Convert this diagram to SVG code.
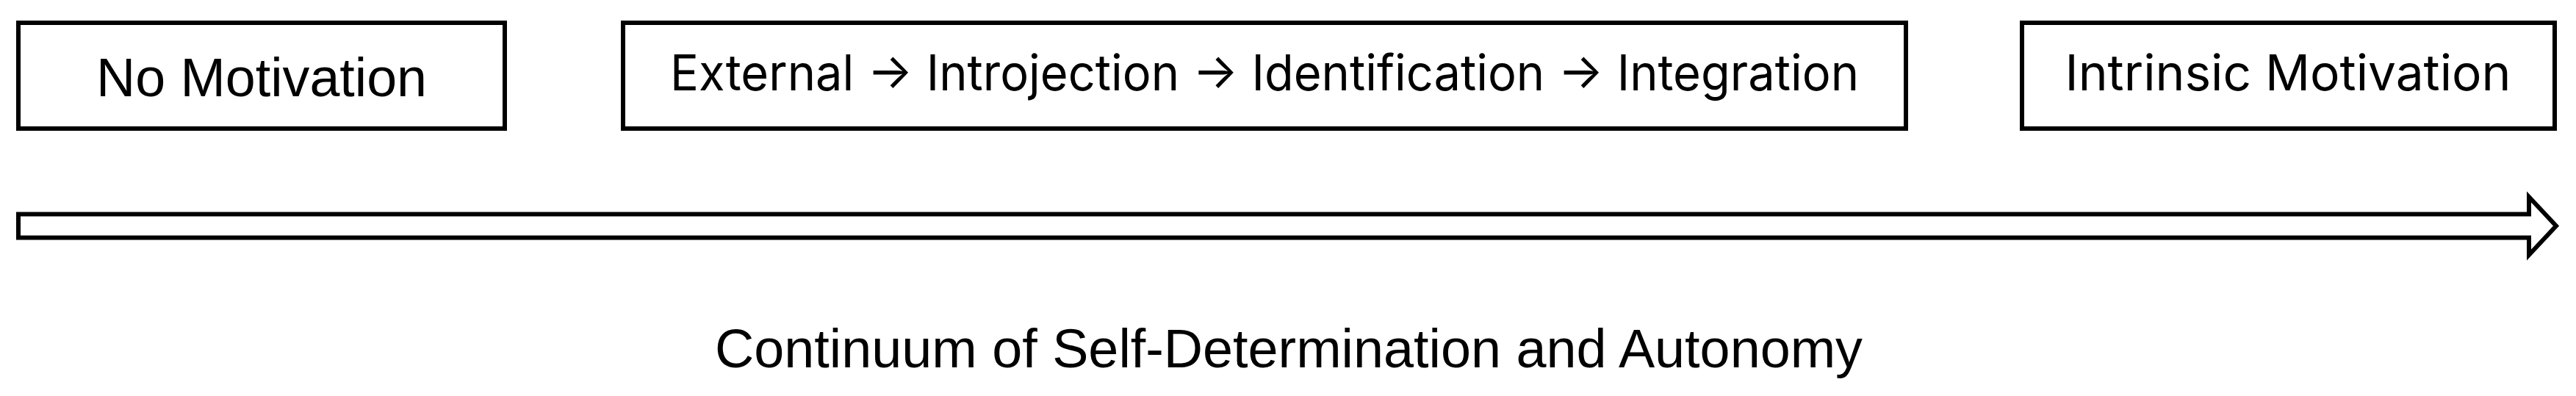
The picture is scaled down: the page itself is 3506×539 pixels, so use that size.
<svg xmlns="http://www.w3.org/2000/svg" width="3506" height="539" viewBox="0 0 3506 539">
<style>
.box{fill:#fff;stroke:#000;stroke-width:6}
.t1{font-family:"Liberation Sans",Arial,sans-serif;font-size:74px;fill:#000;text-anchor:middle}
.t2{font-family:Inter,"Liberation Sans",sans-serif;font-size:67px;fill:#000;text-anchor:middle}
.arrow{fill:#fff;stroke:#000;stroke-width:6;stroke-linejoin:miter}
</style>
<rect width="3506" height="539" fill="#fff"/>
<g id="no-motivation">
<rect class="box" x="25" y="31" width="662" height="144"/>
<text class="t1" x="356" y="131" textLength="450" lengthAdjust="spacingAndGlyphs">No Motivation</text>
</g>
<g id="extrinsic">
<rect class="box" x="848" y="31" width="1746" height="144"/>
<text class="t2" x="1721" y="123" textLength="1618" lengthAdjust="spacingAndGlyphs">External → Introjection → Identification → Integration</text>
</g>
<g id="intrinsic">
<rect class="box" x="2752" y="31" width="725" height="144"/>
<text class="t2" x="3114" y="123" textLength="607" lengthAdjust="spacingAndGlyphs">Intrinsic Motivation</text>
</g>
<g id="connectors">
<path class="arrow" d="M25,291.5 L3442,291.5 L3442,268 L3479,307.5 L3442,347 L3442,323.5 L25,323.5 Z"/>
</g>
<g id="continuum-label">
<text class="t1" x="1754" y="500" textLength="1562" lengthAdjust="spacingAndGlyphs">Continuum of Self-Determination and Autonomy</text>
</g>
</svg>
